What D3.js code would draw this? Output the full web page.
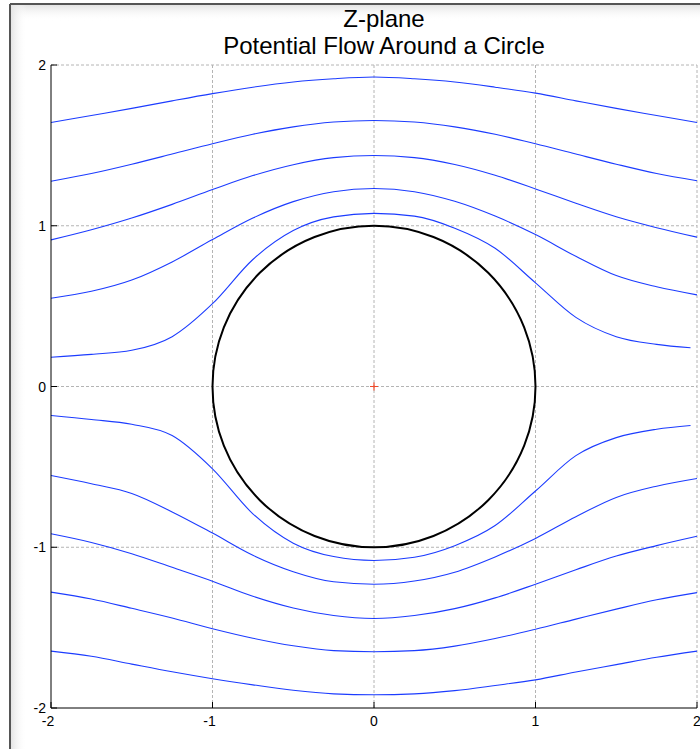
<!DOCTYPE html>
<html>
<head>
<meta charset="utf-8">
<script src="https://d3js.org/d3.v7.min.js"></script>
<style>
  body { margin: 0; background: #fff; overflow: hidden; }
  .tick-label { font: 14px "Liberation Sans", Arial, sans-serif; fill: #000; }
  .title { font: 24px "Liberation Sans", Arial, sans-serif; fill: #000; }
</style>
</head>
<body>
<script>
// streamline x positions
var xs = [-2, -1.75, -1.5, -1.25, -1, -0.75, -0.5, -0.25, 0, 0.25, 0.5, 0.75, 1, 1.25, 1.5, 1.75, 2];
var xsInner = [-2, -1.75, -1.5, -1.25, -1, -0.75, -0.5, -0.25, 0, 0.25, 0.5, 0.75, 1, 1.25, 1.5, 1.75, 1.96];

// upper streamlines (outer to inner)
var upperA = [1.642, 1.686, 1.730, 1.777, 1.822, 1.862, 1.894, 1.914, 1.925, 1.914, 1.894, 1.862, 1.825, 1.777, 1.730, 1.686, 1.642];
var upperB = [1.277, 1.325, 1.383, 1.446, 1.510, 1.569, 1.615, 1.645, 1.655, 1.645, 1.615, 1.569, 1.510, 1.446, 1.383, 1.325, 1.280];
var upperC = [0.912, 0.975, 1.048, 1.133, 1.225, 1.312, 1.380, 1.424, 1.437, 1.424, 1.381, 1.314, 1.229, 1.140, 1.056, 0.988, 0.929];
var upperD = [0.549, 0.592, 0.662, 0.775, 0.914, 1.048, 1.150, 1.212, 1.232, 1.212, 1.152, 1.060, 0.945, 0.810, 0.690, 0.620, 0.570];
var upperE = [0.182, 0.200, 0.225, 0.310, 0.515, 0.790, 0.970, 1.055, 1.077, 1.060, 0.985, 0.860, 0.645, 0.430, 0.310, 0.262, 0.241];

// lower streamlines (inner to outer)
var lowerE = [-0.180, -0.205, -0.235, -0.305, -0.512, -0.792, -0.975, -1.058, -1.082, -1.062, -0.990, -0.865, -0.650, -0.430, -0.318, -0.266, -0.243];
var lowerD = [-0.554, -0.605, -0.665, -0.780, -0.912, -1.050, -1.152, -1.215, -1.230, -1.210, -1.155, -1.060, -0.945, -0.810, -0.690, -0.620, -0.572];
var lowerC = [-0.916, -0.970, -1.040, -1.125, -1.211, -1.305, -1.378, -1.425, -1.443, -1.425, -1.382, -1.315, -1.230, -1.140, -1.055, -0.990, -0.932];
var lowerB = [-1.279, -1.322, -1.380, -1.440, -1.507, -1.566, -1.613, -1.643, -1.650, -1.643, -1.615, -1.568, -1.510, -1.447, -1.385, -1.327, -1.282];
var lowerA = [-1.646, -1.678, -1.727, -1.775, -1.818, -1.856, -1.890, -1.912, -1.918, -1.912, -1.892, -1.860, -1.825, -1.776, -1.730, -1.684, -1.646];

var xTicks = [-2, -1, 0, 1, 2];
var yTicks = [-2, -1, 0, 1, 2];
var circleCenter = [0, 0];
var circleRadius = 1;
var titleLines = ["Z-plane", "Potential Flow Around a Circle"];

var W = 700, H = 749;
var svg = d3.select("body").append("svg").attr("width", W).attr("height", H);

// window frame with soft inner shadow
var defs = svg.append("defs");
var gTop = defs.append("linearGradient").attr("id", "shTop").attr("x1", 0).attr("y1", 0).attr("x2", 0).attr("y2", 1);
gTop.append("stop").attr("offset", "0%").attr("stop-color", "#e4e4e4");
gTop.append("stop").attr("offset", "100%").attr("stop-color", "#fff").attr("stop-opacity", 0);
var gLeft = defs.append("linearGradient").attr("id", "shLeft").attr("x1", 0).attr("y1", 0).attr("x2", 1).attr("y2", 0);
gLeft.append("stop").attr("offset", "0%").attr("stop-color", "#e4e4e4");
gLeft.append("stop").attr("offset", "100%").attr("stop-color", "#fff").attr("stop-opacity", 0);

svg.append("rect").attr("x", 11).attr("y", 5).attr("width", W).attr("height", 16).style("fill", "url(#shTop)");
svg.append("rect").attr("x", 11).attr("y", 5).attr("width", 16).attr("height", H).style("fill", "url(#shLeft)");
svg.append("line").attr("x1", 10).attr("x2", W).attr("y1", 4).attr("y2", 4).attr("stroke", "#555").attr("stroke-width", 2);
svg.append("line").attr("x1", 10).attr("x2", 10).attr("y1", 4).attr("y2", H).attr("stroke", "#555").attr("stroke-width", 2);

var x = d3.scaleLinear().domain([-2, 2]).range([51, 697]);
var y = d3.scaleLinear().domain([-2, 2]).range([708, 65]);

// dashed grid
svg.append("g").selectAll("line").data(xTicks.slice(1)).enter().append("line")
  .attr("x1", d => x(d)).attr("x2", d => x(d)).attr("y1", y(-2)).attr("y2", y(2))
  .attr("stroke", "#b4b4b4").attr("stroke-dasharray", "3,2").attr("stroke-width", 1);
svg.append("g").selectAll("line").data(yTicks.slice(1)).enter().append("line")
  .attr("x1", x(-2)).attr("x2", x(2)).attr("y1", d => y(d)).attr("y2", d => y(d))
  .attr("stroke", "#b4b4b4").attr("stroke-dasharray", "3,2").attr("stroke-width", 1);

// streamlines
var lines = [
  [xs, upperA], [xs, upperB], [xs, upperC], [xs, upperD], [xsInner, upperE],
  [xsInner, lowerE], [xs, lowerD], [xs, lowerC], [xs, lowerB], [xs, lowerA]
];
var lineGen = d3.line().x(d => x(d[0])).y(d => y(d[1])).curve(d3.curveMonotoneX);
svg.append("g").selectAll("path").data(lines).enter().append("path")
  .attr("d", d => lineGen(d[0].map((v, i) => [v, d[1][i]])))
  .attr("fill", "none").attr("stroke", "#1c3cff").attr("stroke-width", 1.1);

// cylinder
svg.append("ellipse")
  .attr("cx", x(circleCenter[0])).attr("cy", y(circleCenter[1]))
  .attr("rx", x(circleRadius) - x(0)).attr("ry", y(0) - y(circleRadius))
  .attr("fill", "none").attr("stroke", "#000").attr("stroke-width", 2);

// centre marker
var cx0 = x(circleCenter[0]), cy0 = y(circleCenter[1]);
svg.append("path").attr("d", `M${cx0 - 4},${cy0}H${cx0 + 4}M${cx0},${cy0 - 4}V${cy0 + 4}`)
  .attr("stroke", "#f04a2a").attr("stroke-width", 1.2);

// axes (left and bottom only, ticks inward)
svg.append("line").attr("x1", x(-2)).attr("x2", x(-2)).attr("y1", y(2)).attr("y2", y(-2)).attr("stroke", "#000");
svg.append("line").attr("x1", x(-2)).attr("x2", x(2)).attr("y1", y(-2)).attr("y2", y(-2)).attr("stroke", "#000");
svg.append("g").selectAll("line").data(yTicks).enter().append("line")
  .attr("x1", x(-2)).attr("x2", x(-2) + 6).attr("y1", d => y(d)).attr("y2", d => y(d)).attr("stroke", "#000");
svg.append("g").selectAll("line").data(xTicks).enter().append("line")
  .attr("x1", d => x(d)).attr("x2", d => x(d)).attr("y1", y(-2)).attr("y2", y(-2) - 6).attr("stroke", "#000");

svg.append("g").selectAll("text").data(yTicks).enter().append("text")
  .attr("class", "tick-label").attr("x", x(-2) - 5).attr("y", d => y(d) + 5)
  .attr("text-anchor", "end").text(d => d);
svg.append("g").selectAll("text").data(xTicks).enter().append("text")
  .attr("class", "tick-label").attr("x", d => x(d) - (d < 0 ? 3 : 0)).attr("y", y(-2) + 18)
  .attr("text-anchor", "middle").text(d => d);

// title
svg.append("g").selectAll("text").data(titleLines).enter().append("text")
  .attr("class", "title").attr("x", 384).attr("y", (d, i) => 27 + i * 27)
  .attr("text-anchor", "middle").text(d => d);
</script>
</body>
</html>
